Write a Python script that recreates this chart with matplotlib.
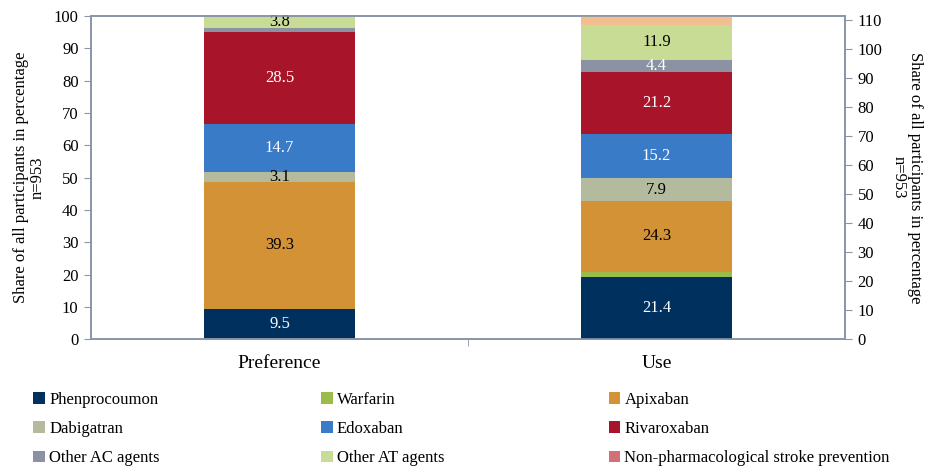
import matplotlib
matplotlib.use("Agg")
import matplotlib.pyplot as plt
from matplotlib.patches import Patch

plt.rcParams['font.family'] = ['Liberation Serif', 'DejaVu Serif']

categories = ["Preference", "Use"]
series = ["Phenprocoumon", "Warfarin", "Apixaban", "Dabigatran", "Edoxaban",
          "Rivaroxaban", "Other AC agents", "Other AT agents",
          "Non-pharmacological stroke prevention"]
preference = [9.5, 0.0, 39.3, 3.1, 14.7, 28.5, 1.1, 3.8, 0.0]
use = [21.4, 2.0, 24.3, 7.9, 15.2, 21.2, 4.4, 11.9, 3.1]
labels_pref = ["9.5", "", "39.3", "3.1", "14.7", "28.5", "", "3.8", ""]
labels_use = ["21.4", "", "24.3", "7.9", "15.2", "21.2", "4.4", "11.9", ""]

bar_colors = ["#00305E", "#9BBB4A", "#D39236", "#B3BA9E", "#3A7BC8",
              "#A8152A", "#8A92A3", "#C8DC96", "#F2C090"]
legend_colors = ["#00305E", "#9BBB4A", "#D39236", "#B3BA9E", "#3A7BC8",
                 "#A8152A", "#8A92A3", "#C8DC96", "#D37077"]
text_colors = ["white", "black", "black", "black", "white",
               "white", "white", "black", "black"]

axis_color = "#8A95A8"

fig = plt.figure(figsize=(9.25, 4.68), dpi=100)
ax = fig.add_axes([0.0984, 0.2746, 0.8151, 0.6912])
ax2 = ax.twinx()

width = 0.4
def stack(axis, x, vals, labs):
    bottom = 0.0
    for v, c, lab, tc in zip(vals, bar_colors, labs, text_colors):
        if v > 0:
            axis.bar(x, v, width=width, bottom=bottom, color=c, linewidth=0)
            if lab:
                axis.text(x, bottom + v / 2, lab, ha="center", va="center",
                          color=tc, fontsize=12)
        bottom += v

stack(ax, 0, preference, labels_pref)
stack(ax2, 1, use, labels_use)

ax.set_xlim(-0.5, 1.5)
ax.set_ylim(0, 100)
ax2.set_ylim(0, sum(use))
ax.set_yticks(range(0, 101, 10))
ax2.set_yticks(range(0, 111, 10))

ax.set_xticks([0, 1])
ax.set_xticklabels(categories, fontsize=14)
ax.tick_params(axis="x", length=0, pad=11)
ax.set_xticks([0.5], minor=True)
ax.tick_params(axis="x", which="minor", length=5, color=axis_color)

for a in (ax, ax2):
    for s in a.spines.values():
        s.set_color(axis_color)
        s.set_linewidth(1.2)
    a.tick_params(axis="y", length=5, color=axis_color, labelsize=12, pad=4)

ax.set_ylabel("Share of all participants in percentage\nn=953", fontsize=12,
              linespacing=1.0, labelpad=6, multialignment="center")
ax2.set_ylabel("Share of all participants in percentage\nn=953", fontsize=12,
               rotation=270, va="bottom", linespacing=1.0, labelpad=6,
               multialignment="center")

handles = [Patch(facecolor=c, edgecolor="none") for c in legend_colors]
col_x = [0.036, 0.347, 0.658]
for ci in range(3):
    idx = [ci, ci + 3, ci + 6]
    fig.legend([handles[i] for i in idx], [series[i] for i in idx],
               loc="upper left", bbox_to_anchor=(col_x[ci], 0.163),
               frameon=False, fontsize=12, handlelength=0.7, handleheight=0.7,
               handletextpad=0.25, labelspacing=0.8, borderpad=0,
               borderaxespad=0)

fig.savefig("out.png", dpi=100)
